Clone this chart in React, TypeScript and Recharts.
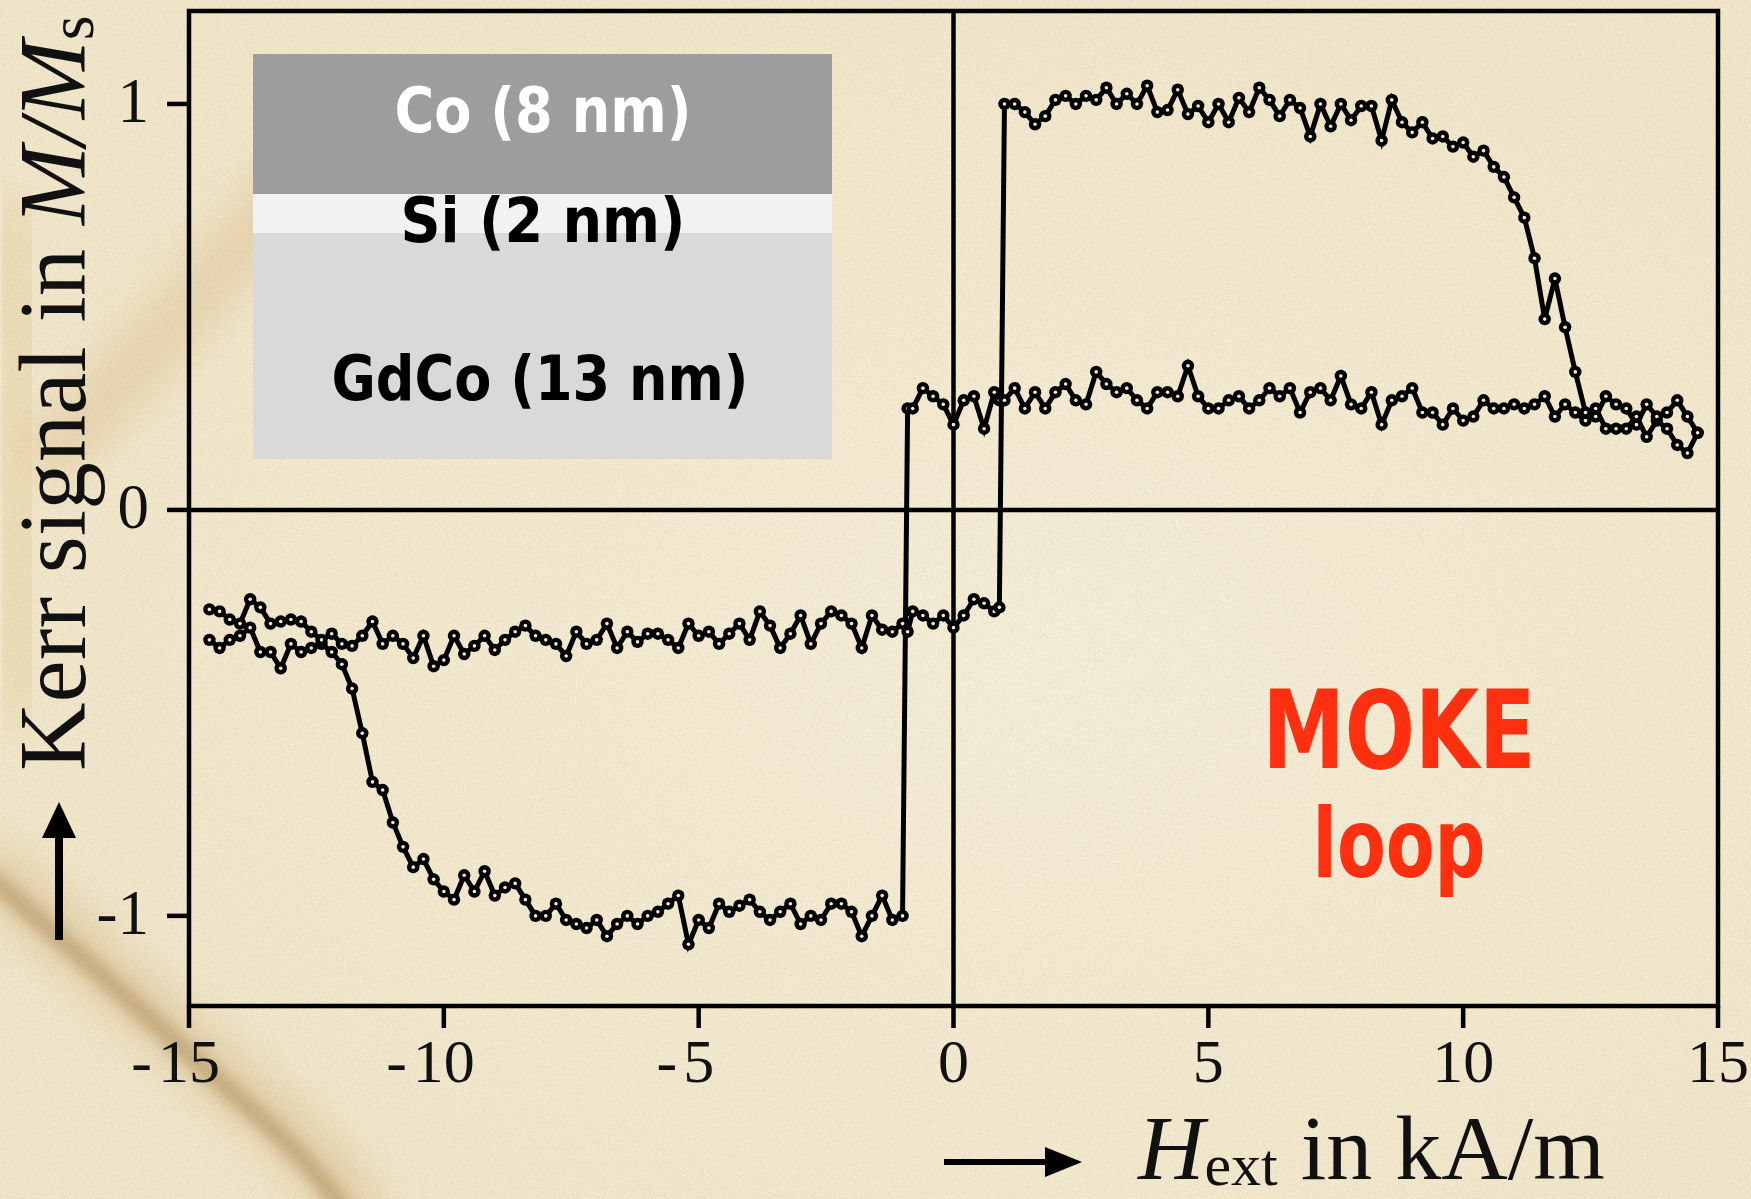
import React from 'react';
import {
  LineChart,
  Line,
  XAxis,
  YAxis,
  ReferenceLine,
  ReferenceArea,
} from 'recharts';

// field grid in kA/m (extra points at the two switching fields)
const FIELD = [
  -14.6, -14.4, -14.2, -14.0, -13.8, -13.6, -13.4, -13.2, -13.0, -12.8,
  -12.6, -12.4, -12.2, -12.0, -11.8, -11.6, -11.4, -11.2, -11.0, -10.8,
  -10.6, -10.4, -10.2, -10.0, -9.8, -9.6, -9.4, -9.2, -9.0, -8.8,
  -8.6, -8.4, -8.2, -8.0, -7.8, -7.6, -7.4, -7.2, -7.0, -6.8,
  -6.6, -6.4, -6.2, -6.0, -5.8, -5.6, -5.4, -5.2, -5.0, -4.8,
  -4.6, -4.4, -4.2, -4.0, -3.8, -3.6, -3.4, -3.2, -3.0, -2.8,
  -2.6, -2.4, -2.2, -2.0, -1.8, -1.6, -1.4, -1.2, -1.0, -0.9, -0.8,
  -0.6, -0.4, -0.2, 0.0, 0.2, 0.4, 0.6, 0.8, 0.9, 1.0, 1.2,
  1.4, 1.6, 1.8, 2.0, 2.2, 2.4, 2.6, 2.8, 3.0, 3.2,
  3.4, 3.6, 3.8, 4.0, 4.2, 4.4, 4.6, 4.8, 5.0, 5.2,
  5.4, 5.6, 5.8, 6.0, 6.2, 6.4, 6.6, 6.8, 7.0, 7.2,
  7.4, 7.6, 7.8, 8.0, 8.2, 8.4, 8.6, 8.8, 9.0, 9.2,
  9.4, 9.6, 9.8, 10.0, 10.2, 10.4, 10.6, 10.8, 11.0, 11.2,
  11.4, 11.6, 11.8, 12.0, 12.2, 12.4, 12.6, 12.8, 13.0, 13.2,
  13.4, 13.6, 13.8, 14.0, 14.2, 14.4, 14.6,
];

// branch that switches to -1 near -11 kA/m and back up at -1 kA/m
const RISING = [
  -0.32, -0.34, -0.32, -0.31, -0.29, -0.35, -0.35, -0.39, -0.33, -0.35,
  -0.34, -0.33, -0.35, -0.38, -0.44, -0.55, -0.67, -0.69, -0.77, -0.83,
  -0.88, -0.86, -0.91, -0.94, -0.96, -0.90, -0.94, -0.89, -0.95, -0.93,
  -0.92, -0.96, -1.00, -1.00, -0.97, -1.01, -1.02, -1.03, -1.01, -1.05,
  -1.02, -1.00, -1.02, -1.00, -0.99, -0.97, -0.95, -1.07, -1.01, -1.03,
  -0.97, -0.99, -0.975, -0.96, -0.99, -1.01, -0.99, -0.97, -1.02, -1.00,
  -1.01, -0.97, -0.97, -0.99, -1.05, -1.00, -0.95, -1.01, -1.00, 0.25, 0.25,
  0.30, 0.28, 0.26, 0.21, 0.27, 0.28, 0.20, 0.29, 0.27, 0.27, 0.30,
  0.25, 0.29, 0.25, 0.29, 0.31, 0.27, 0.26, 0.34, 0.31, 0.29,
  0.30, 0.27, 0.25, 0.29, 0.29, 0.28, 0.355, 0.28, 0.25, 0.25,
  0.27, 0.28, 0.25, 0.27, 0.30, 0.28, 0.30, 0.24, 0.29, 0.30,
  0.27, 0.33, 0.26, 0.25, 0.29, 0.21, 0.27, 0.28, 0.30, 0.24,
  0.24, 0.21, 0.25, 0.22, 0.23, 0.27, 0.25, 0.25, 0.26, 0.25,
  0.26, 0.28, 0.23, 0.26, 0.24, 0.22, 0.25, 0.20, 0.20, 0.20,
  0.23, 0.18, 0.22, 0.20, 0.16, 0.14, 0.19,
];

// branch that saturates at +1 and drops to -0.25 at +1 kA/m
const FALLING = [
  -0.245, -0.25, -0.27, -0.28, -0.22, -0.24, -0.28, -0.275, -0.27, -0.275,
  -0.30, -0.32, -0.305, -0.33, -0.335, -0.31, -0.275, -0.33, -0.31, -0.33,
  -0.365, -0.31, -0.385, -0.37, -0.31, -0.355, -0.335, -0.31, -0.345, -0.32,
  -0.30, -0.285, -0.31, -0.32, -0.33, -0.36, -0.30, -0.33, -0.32, -0.28,
  -0.34, -0.30, -0.325, -0.305, -0.305, -0.32, -0.34, -0.28, -0.31, -0.30,
  -0.33, -0.305, -0.28, -0.32, -0.25, -0.285, -0.34, -0.305, -0.26, -0.33,
  -0.28, -0.25, -0.26, -0.28, -0.34, -0.26, -0.295, -0.30, -0.28, -0.30, -0.25,
  -0.26, -0.28, -0.26, -0.29, -0.26, -0.22, -0.23, -0.25, -0.24, 1.00, 1.00,
  0.98, 0.95, 0.97, 1.01, 1.02, 1.00, 1.02, 1.01, 1.04, 1.00,
  1.025, 1.00, 1.045, 0.98, 0.985, 1.035, 0.975, 0.995, 0.955, 1.00,
  0.955, 1.015, 0.98, 1.04, 1.01, 0.97, 1.01, 0.99, 0.92, 1.00,
  0.945, 1.00, 0.96, 0.995, 0.995, 0.91, 1.01, 0.955, 0.93, 0.955,
  0.915, 0.92, 0.895, 0.905, 0.87, 0.885, 0.845, 0.82, 0.77, 0.72,
  0.62, 0.47, 0.57, 0.45, 0.34, 0.24, 0.23, 0.28, 0.26, 0.25,
  0.21, 0.26, 0.23, 0.24, 0.27, 0.23, 0.19,
];

const X_TICKS = [-15, -10, -5, 0, 5, 10, 15];
const Y_TICKS = [-1, 0, 1];
const X_MIN = -15;
const X_MAX = 15;
const Y_MIN = -1.222;
const Y_MAX = 1.229;

const data = FIELD.map((h, i) => ({ h, rising: RISING[i], falling: FALLING[i] }));

const SERIF = "'Liberation Serif', 'Times New Roman', serif";
const COMIC = "'Comic Sans MS', 'DejaVu Sans', sans-serif";
const PAPER = '#f3e9cd';
const INK = '#000';

// open ring marker like the original plot
const RingDot = (props: any) => {
  const { cx, cy, index } = props;
  if (cx == null || cy == null) return null;
  return (
    <g key={index}>
      <circle cx={cx} cy={cy} r={6.2} fill={INK} />
      <circle cx={cx} cy={cy} r={1.8} fill={PAPER} />
    </g>
  );
};

const XTick = (props: any) => {
  const { x, y, payload } = props;
  const v = payload.value;
  const digits = String(Math.abs(v));
  return (
    <g>
      <text x={x} y={y} dy="0.71em" textAnchor="middle" fontFamily={SERIF} fontSize={62} fill="#111">
        {digits}
      </text>
      {v < 0 && (
        <text x={x - digits.length * 15.5 - 6} y={y} dy="0.71em" textAnchor="end" fontFamily={SERIF} fontSize={62} fill="#111">
          -
        </text>
      )}
    </g>
  );
};

const YTick = (props: any) => {
  const { x, y, payload } = props;
  return (
    <text x={x} y={y} dy="0.28em" textAnchor="end" fontFamily={SERIF} fontSize={63} fill="#111">
      {String(payload.value)}
    </text>
  );
};

export default function App() {
  return (
    <div style={{ position: 'absolute', left: 0, top: 0, width: 1751, height: 1199, background: PAPER, overflow: 'hidden' }}>
      {/* paper texture */}
      <svg width={1751} height={1199} style={{ position: 'absolute', left: 0, top: 0 }}>
        <defs>
          <filter id="blurBig" x="-50%" y="-50%" width="200%" height="200%">
            <feGaussianBlur stdDeviation="22" />
          </filter>
          <filter id="blurSmall" x="-50%" y="-50%" width="200%" height="200%">
            <feGaussianBlur stdDeviation="7" />
          </filter>
          <filter id="grain">
            <feTurbulence type="fractalNoise" baseFrequency="0.85" numOctaves="2" seed="4" />
            <feColorMatrix type="matrix" values="0 0 0 0 0.55  0 0 0 0 0.46  0 0 0 0 0.3  0.6 0 0 0 -0.2" />
          </filter>
          <radialGradient id="light" cx="60%" cy="55%" r="60%">
            <stop offset="0%" stopColor="#f8f1dc" stopOpacity={0.9} />
            <stop offset="100%" stopColor="#f8f1dc" stopOpacity={0} />
          </radialGradient>
        </defs>
        <rect width={1751} height={1199} fill="url(#light)" />
        <path d="M 40 470 C 120 380, 200 300, 330 140" stroke="#d9bb86" strokeWidth={60} fill="none" opacity={0.45} filter="url(#blurBig)" />
        <path d="M 10 200 C 20 350, 30 520, 20 720" stroke="#e3c98f" strokeWidth={70} fill="none" opacity={0.35} filter="url(#blurBig)" />
        <path d="M -20 870 C 60 935, 150 1020, 235 1095 S 320 1180, 360 1230" stroke="#9a733e" strokeWidth={18} fill="none" opacity={0.55} filter="url(#blurSmall)" />
        <path d="M -20 860 C 60 930, 150 1015, 240 1090 S 330 1180, 370 1230" stroke="#c9a56c" strokeWidth={55} fill="none" opacity={0.4} filter="url(#blurBig)" />
        <rect width={1751} height={1199} filter="url(#grain)" />
      </svg>

      <div style={{ position: 'absolute', left: 0, top: 0 }}>
        <LineChart width={1751} height={1199} data={data} margin={{ top: 11, right: 33, bottom: 0, left: 0 }}>
          <XAxis
            type="number"
            dataKey="h"
            domain={[X_MIN, X_MAX]}
            ticks={X_TICKS}
            allowDataOverflow
            height={193}
            axisLine={false}
            tickLine={{ stroke: INK, strokeWidth: 4.5 }}
            tickSize={22}
            tickMargin={10}
            tick={(p: any) => <XTick {...p} />}
            interval={0}
          />
          <YAxis
            type="number"
            domain={[Y_MIN, Y_MAX]}
            ticks={Y_TICKS}
            allowDataOverflow
            width={189}
            axisLine={false}
            tickLine={{ stroke: INK, strokeWidth: 4.5 }}
            tickSize={22}
            tickMargin={18}
            tick={(p: any) => <YTick {...p} />}
            interval={0}
          />
          <ReferenceArea x1={X_MIN} x2={X_MAX} y1={Y_MIN} y2={Y_MAX} fill="none" fillOpacity={0} stroke={INK} strokeWidth={4.5} ifOverflow="visible" />
          <ReferenceLine y={0} stroke={INK} strokeWidth={4.5} />
          <ReferenceLine x={0} stroke={INK} strokeWidth={4.5} />
          <Line
            type="linear"
            dataKey="rising"
            stroke={INK}
            strokeWidth={5}
            dot={RingDot}
            activeDot={false}
            isAnimationActive={false}
          />
          <Line
            type="linear"
            dataKey="falling"
            stroke={INK}
            strokeWidth={5}
            dot={RingDot}
            activeDot={false}
            isAnimationActive={false}
          />
        </LineChart>
      </div>

      {/* annotations */}
      <svg width={1751} height={1199} style={{ position: 'absolute', left: 0, top: 0, pointerEvents: 'none' }}>
        {/* layer stack inset */}
        <rect x={253} y={54} width={579} height={140} fill="#9d9d9d" />
        <rect x={253} y={194} width={579} height={39} fill="#f2f2f2" />
        <rect x={253} y={233} width={579} height={226} fill="#d9d9d9" />
        <text x={543} y={132} textAnchor="middle" fontFamily={COMIC} fontWeight="bold" fontSize={62} fill="#ffffff" textLength={297} lengthAdjust="spacingAndGlyphs">
          Co (8 nm)
        </text>
        <text x={543} y={242} textAnchor="middle" fontFamily={COMIC} fontWeight="bold" fontSize={62} fill="#000" textLength={285} lengthAdjust="spacingAndGlyphs">
          Si (2 nm)
        </text>
        <text x={540} y={400} textAnchor="middle" fontFamily={COMIC} fontWeight="bold" fontSize={62} fill="#000" textLength={417} lengthAdjust="spacingAndGlyphs">
          GdCo (13 nm)
        </text>

        {/* MOKE loop label */}
        <text x={1399} y={768} textAnchor="middle" fontFamily={COMIC} fontWeight="bold" fontSize={108} fill="#ff3010" textLength={273} lengthAdjust="spacingAndGlyphs">
          MOKE
        </text>
        <text x={1399} y={877} textAnchor="middle" fontFamily={COMIC} fontWeight="bold" fontSize={96} fill="#ff3010" textLength={173} lengthAdjust="spacingAndGlyphs">
          loop
        </text>

        {/* y axis title */}
        <text transform="translate(85,771) rotate(-90)" fontFamily={SERIF} fontSize={95} fill="#111">
          {'Kerr signal in '}
          <tspan fontStyle="italic">M/M</tspan>
          <tspan fontSize={64} dy={8}>s</tspan>
        </text>
        <line x1={59} y1={940} x2={59} y2={830} stroke={INK} strokeWidth={8} />
        <polygon points="59,802 42,838 76,838" fill={INK} />

        {/* x axis title */}
        <line x1={944} y1={1162} x2={1052} y2={1162} stroke={INK} strokeWidth={6} />
        <polygon points="1082,1162 1045,1147 1045,1177" fill={INK} />
        <text x={1138} y={1179} fontFamily={SERIF} fontSize={92} fill="#111">
          <tspan fontStyle="italic">H</tspan>
          <tspan fontSize={60} dy={6}>ext</tspan>
          <tspan dy={-6}>{' in kA/m'}</tspan>
        </text>
      </svg>
    </div>
  );
}
